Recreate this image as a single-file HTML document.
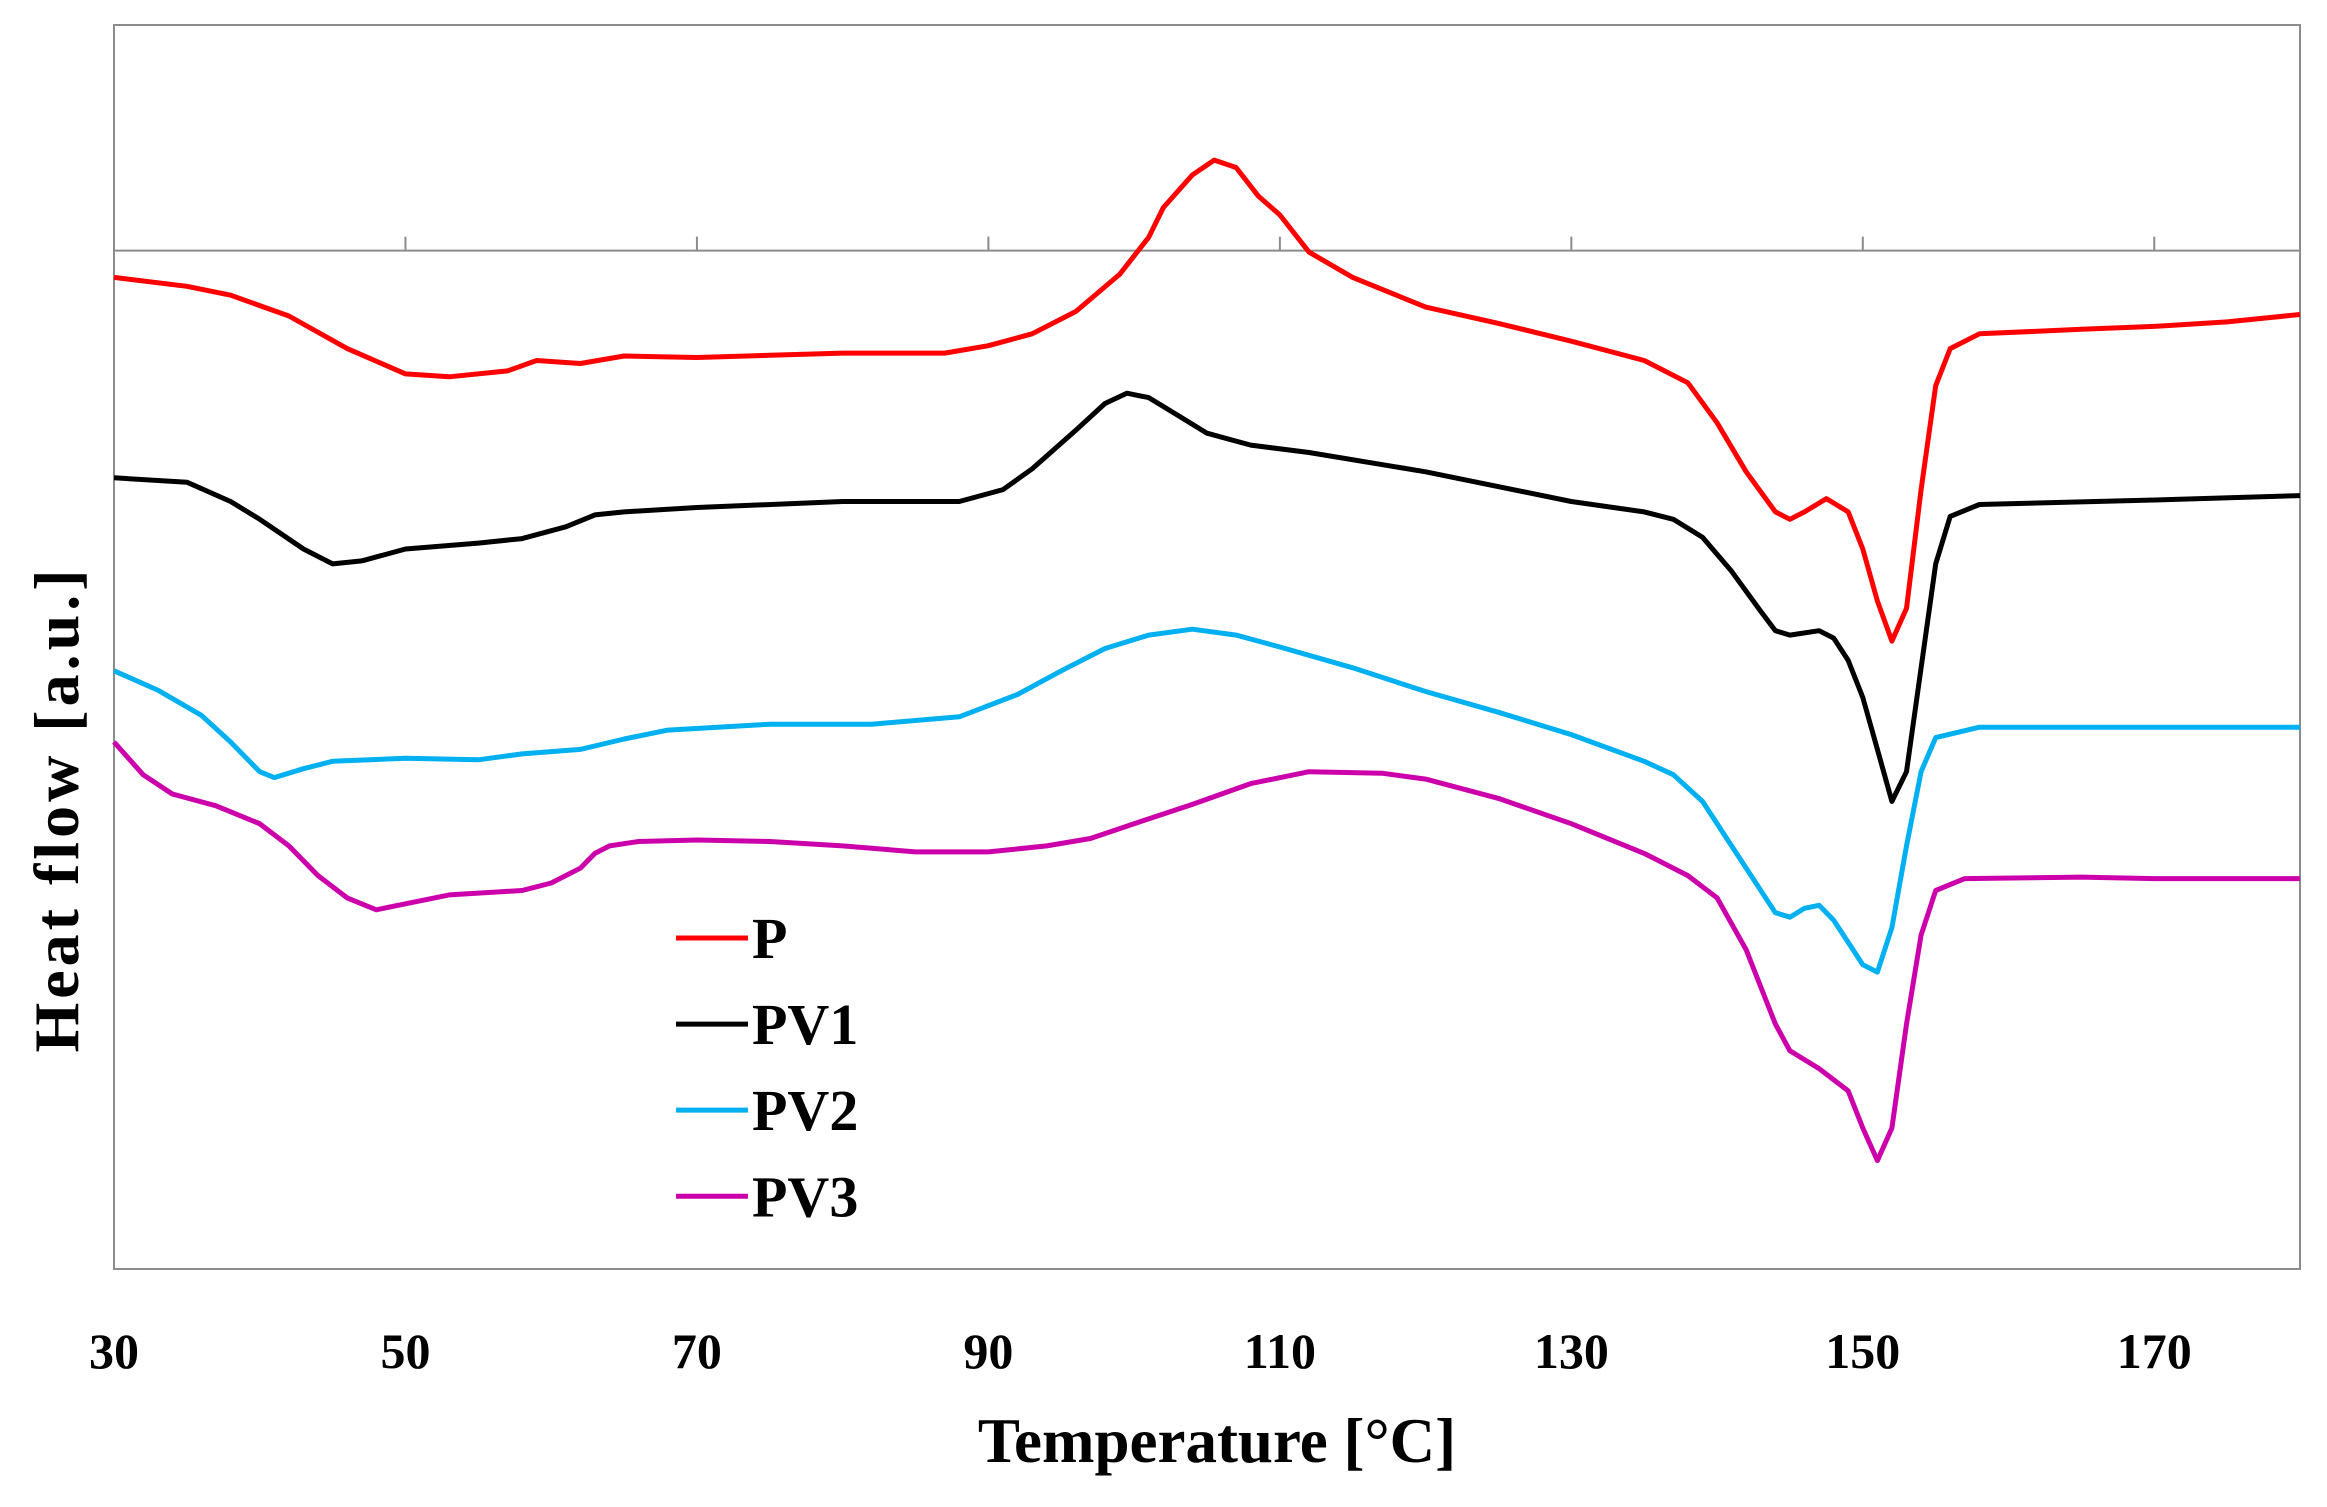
<!DOCTYPE html>
<html><head><meta charset="utf-8"><style>
html,body{margin:0;padding:0;background:#fff;}
svg{display:block;}
text{font-family:"Liberation Serif",serif;font-weight:bold;fill:#000;}
</style></head><body>
<svg id="chart" width="2327" height="1507">
<rect x="114" y="25" width="2186" height="1244" fill="none" stroke="#8c8c8c" stroke-width="2"/>
<g id="axis"></g>
<g id="series"></g>
<g id="legend"></g>
<text x="1217" y="1462" font-size="63" text-anchor="middle">Temperature [°C]</text>
<text transform="translate(78,809) rotate(-90)" font-size="64" text-anchor="middle" letter-spacing="4">Heat flow  [a.u.]</text>
</svg>
<script>
const xTicks=[30,50,70,90,110,130,150,170];
const seriesNames=["P","PV1","PV2","PV3"];
const seriesColors=["#ff0000","#000000","#00b0f0","#cc00aa"];
const tP=[30,35,38,42,46,50,53,57,59,62,65,70,80,87,90,93,96,99,101,102,104,105.5,107,108.5,110,112,115,120,125,130,135,138,140,142,144,145,146,147.5,149,150,151,152,153,154,155,156,158,165,170,175,180];
const vP=[187,193,199,213,235,252,254,250,243,245,240,241,238,238,233,225,210,185,160,140,118,108,113,132,145,170,187,207,218,230,243,258,285,318,345,350,345,336,345,370,405,432,410,330,260,235,225,222,220,217,212];
const tPV1=[30,35,38,40,43,45,47,50,55,58,61,63,65,70,80,88,91,93,96,98,99.5,101,103,105,108,112,120,130,135,137,139,141,143,144,145,147,148,149,150,151,152,153,154,155,156,158,170,180];
const vPV1=[322,325,338,350,370,380,378,370,366,363,355,347,345,342,338,338,330,316,290,272,265,268,280,292,300,305,318,338,345,350,362,385,412,425,428,425,430,445,470,505,540,520,450,380,348,340,337,334];
const tPV2=[30,33,36,38,40,41,43,45,50,55,58,62,65,68,75,82,88,92,95,98,101,104,107,110,115,120,125,130,135,137,139,141,143,144,145,146,147,148,149,150,151,152,153,154,155,158,165,170,180];
const vPV2=[452,465,482,500,520,524,518,513,511,512,508,505,498,492,488,488,483,468,452,437,428,424,428,436,450,466,480,495,513,522,540,570,600,615,618,612,610,620,635,650,655,625,570,520,497,490,490,490,490];
const tPV3=[30,32,34,37,40,42,44,46,48,50,53,58,60,62,63,64,66,70,75,80,85,90,94,97,100,104,108,112,117,120,125,130,135,138,140,142,143,144,145,147,149,150,151,152,153,154,155,157,165,170,180];
const vPV3=[500,522,535,543,555,570,590,605,613,609,603,600,595,585,575,570,567,566,567,570,574,574,570,565,555,542,528,520,521,525,538,555,575,590,605,640,665,690,708,720,735,760,782,760,690,630,600,592,591,592,592];
const NS="http://www.w3.org/2000/svg";
const xs=t=>114+(t-30)*(2186/150);
const ys=v=>25+(v-17)*1.4845;
const ax=document.getElementById('axis');
let l=document.createElementNS(NS,'line');
l.setAttribute('x1',114);l.setAttribute('x2',2300);l.setAttribute('y1',ys(169));l.setAttribute('y2',ys(169));
l.setAttribute('stroke','#8c8c8c');l.setAttribute('stroke-width',2);


ax.appendChild(l);
xTicks.forEach(t=>{
 const tk=document.createElementNS(NS,'line');
 tk.setAttribute('x1',xs(t));tk.setAttribute('x2',xs(t));tk.setAttribute('y1',ys(169));tk.setAttribute('y2',ys(169)-14);
 tk.setAttribute('stroke','#8c8c8c');tk.setAttribute('stroke-width',2);
 
 
 ax.appendChild(tk);
 const tx=document.createElementNS(NS,'text');
 tx.setAttribute('x',xs(t));tx.setAttribute('y',1368);tx.setAttribute('font-size',50);tx.setAttribute('text-anchor','middle');
 tx.textContent=t;
 
 
 ax.appendChild(tx);
});
const data=[[tP,vP],[tPV1,vPV1],[tPV2,vPV2],[tPV3,vPV3]];
const sg=document.getElementById('series');
data.forEach((d,i)=>{
 const p=document.createElementNS(NS,'polyline');
 p.setAttribute('points',d[0].map((t,j)=>xs(t).toFixed(1)+','+ys(d[1][j]).toFixed(1)).join(' '));
 p.setAttribute('fill','none');p.setAttribute('stroke',seriesColors[i]);p.setAttribute('stroke-width',5);
 p.setAttribute('stroke-linejoin','round');
 
 
 sg.appendChild(p);
});
const lg=document.getElementById('legend');
seriesNames.forEach((n,i)=>{
 const y=ys(632+i*58);
 const ln=document.createElementNS(NS,'line');
 ln.setAttribute('x1',676);ln.setAttribute('x2',748);ln.setAttribute('y1',y);ln.setAttribute('y2',y);
 ln.setAttribute('stroke',seriesColors[i]);ln.setAttribute('stroke-width',5);
 
 
 lg.appendChild(ln);
 const tx=document.createElementNS(NS,'text');
 tx.setAttribute('x',752);tx.setAttribute('y',y+20);tx.setAttribute('font-size',58);
 tx.textContent=n;
 
 
 lg.appendChild(tx);
});
</script>
</body></html>
